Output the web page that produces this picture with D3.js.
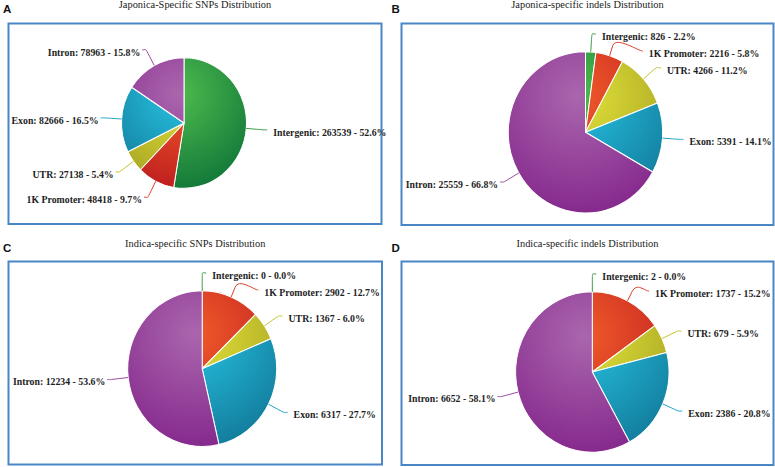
<!DOCTYPE html>
<html><head><meta charset="utf-8">
<script src="https://cdn.jsdelivr.net/npm/d3@7"></script>
<style>html,body{margin:0;padding:0;background:#fff;} svg{display:block;}</style>
</head><body>
<svg id="chart" width="775" height="467"></svg>
<script>
// ---------- data ----------
const categories = ["Intergenic", "1K Promoter", "UTR", "Exon", "Intron"];
const japonicaSNPs = [263539, 48418, 27138, 82666, 78963];
const japonicaIndels = [826, 2216, 4266, 5391, 25559];
const indicaSNPs = [0, 2902, 1367, 6317, 12234];
const indicaIndels = [2, 1737, 679, 2386, 6652];
const panelTitles = ["Japonica-Specific SNPs Distribution", "Japonica-specific indels Distribution",
                     "Indica-specific SNPs Distribution", "Indica-specific indels Distribution"];
const panelLetters = ["A", "B", "C", "D"];
const panelSeries = [japonicaSNPs, japonicaIndels, indicaSNPs, indicaIndels];

// ---------- styles ----------
const lightColors = ["#4dbb4d", "#f05a2a", "#e2e23a", "#27c2e2", "#aa66ad"];
const darkColors  = ["#147a3a", "#c01f1f", "#a8a522", "#137e9e", "#862a8e"];
const lineColors  = ["#3d9e4a", "#d8402a", "#c4c42c", "#22a6c6", "#9a4a9e"];

// ---------- layout ----------
const layout = [
  {box: [8.5, 23.5, 381.5, 224], cx: 184, cy: 123, r: 62.5, maxRight: 420, titleY: 8, letter: [3, 13]},
  {box: [401.5, 23.5, 773.5, 225], cx: 585.5, cy: 132.3, r: 77.2, maxRight: 772, titleY: 8, letter: [391.5, 13]},
  {box: [8.5, 261.5, 382, 464.5], cx: 202.2, cy: 368.7, r: 74.5, maxRight: 420, titleY: 247, letter: [3, 252]},
  {box: [401.5, 261.5, 773.5, 465], cx: 592.3, cy: 372, r: 76.7, maxRight: 772, titleY: 247, letter: [391.5, 251.5]}
];
const sy = 1.045;        // slight vertical stretch of the figure
const labelGap = 17;     // label distance beyond pie edge
const slot = 17;         // min vertical spacing of labels

const svg = d3.select("#chart");
const defs = svg.append("defs");
const pie = d3.pie().sort(null).value(d => d);

panelSeries.forEach((values, p) => {
  const L = layout[p];
  const total = d3.sum(values);
  const g = svg.append("g");

  // box
  g.append("rect")
    .attr("x", L.box[0]).attr("y", L.box[1])
    .attr("width", L.box[2] - L.box[0]).attr("height", L.box[3] - L.box[1])
    .attr("fill", "none").attr("stroke", "#4a86c5").attr("stroke-width", 2);

  // title
  g.append("text")
    .attr("x", (L.box[0] + L.box[2]) / 2).attr("y", L.titleY)
    .attr("text-anchor", "middle")
    .style("font-family", "'Liberation Serif', 'Times New Roman', serif")
    .style("font-size", "10.4px").attr("fill", "#222")
    .text(panelTitles[p]);

  // letter
  g.append("text")
    .attr("x", L.letter[0]).attr("y", L.letter[1])
    .style("font-family", "'Liberation Sans', Arial, sans-serif")
    .style("font-size", "11.5px").style("font-weight", "bold").attr("fill", "#111")
    .text(panelLetters[p]);

  // gradients (pie-wide radial gradient in pie coordinates)
  categories.forEach((c, i) => {
    const gr = defs.append("radialGradient")
      .attr("id", `grad${p}_${i}`).attr("gradientUnits", "userSpaceOnUse")
      .attr("cx", -0.1 * L.r).attr("cy", -0.45 * L.r).attr("r", 1.45 * L.r);
    gr.append("stop").attr("offset", 0).attr("stop-color", lightColors[i]);
    gr.append("stop").attr("offset", 1).attr("stop-color", darkColors[i]);
  });

  const arcs = pie(values);
  const arc = d3.arc().innerRadius(0).outerRadius(L.r);
  const pg = g.append("g").attr("transform", `translate(${L.cx},${L.cy}) scale(1,${sy})`);
  pg.selectAll("path").data(arcs.filter(d => d.value > 0)).join("path")
    .attr("d", arc)
    .attr("fill", d => `url(#grad${p}_${d.index})`)
    .attr("stroke", "#fff").attr("stroke-width", 1).attr("stroke-linejoin", "round");

  // labels
  const R = L.r + labelGap;
  const items = arcs.map((d, i) => {
    const a = (d.startAngle + d.endAngle) / 2;
    const s = Math.sin(a), c = -Math.cos(a);
    return {i, d, a, s, c, side: (a <= Math.PI ? 1 : -1),
      nx: L.cx + R * s, ny: L.cy + R * c * sy};
  });
  [1, -1].forEach(side => {
    const its = items.filter(t => t.side === side).sort((a, b) => a.ny - b.ny);
    let prev = -Infinity;
    its.forEach((t, k) => {
      t.y = Math.max(t.ny, prev + slot);
      prev = t.y;
      if (k === 0 || k === its.length - 1) {
        t.x = t.nx;
      } else {
        const dy = Math.max(-R, Math.min(R, (t.y - L.cy) / sy));
        t.x = L.cx + side * Math.sqrt(R * R - dy * dy);
      }
    });
  });

  items.forEach(t => {
    const pct = (t.d.value / total * 100).toFixed(1);
    const label = `${categories[t.i]}: ${t.d.value} - ${pct}%`;
    const txt = g.append("text")
      .style("font-family", "'Liberation Serif', 'Times New Roman', serif")
      .style("font-size", "9.8px").style("font-weight", "bold")
      .attr("fill", "#1e1e1e")
      .attr("text-anchor", t.side > 0 ? "start" : "end")
      .attr("y", t.y + 2.5).attr("dy", "0.35em")
      .text(label);
    let x = t.x;
    const w = txt.node().getComputedTextLength();
    if (t.side > 0 && x + 10 + w > L.maxRight) x = L.maxRight - w - 10;
    txt.attr("x", t.side > 0 ? x + 10 : x - 6);
    // connector (soft)
    const ex = L.cx + L.r * t.s, ey = L.cy + L.r * t.c * sy;
    const bx = L.cx + (L.r + 10) * t.s, by = L.cy + (L.r + 10) * t.c * sy;
    const path = `M${x + 4 * t.side},${t.y} C${x},${t.y} ${2 * bx - ex},${2 * by - ey} ${bx},${by} L${ex},${ey}`;
    g.append("path").attr("d", path).attr("fill", "none")
      .attr("stroke", lineColors[t.i]).attr("stroke-width", 1);
  });
});
</script>
</body></html>
